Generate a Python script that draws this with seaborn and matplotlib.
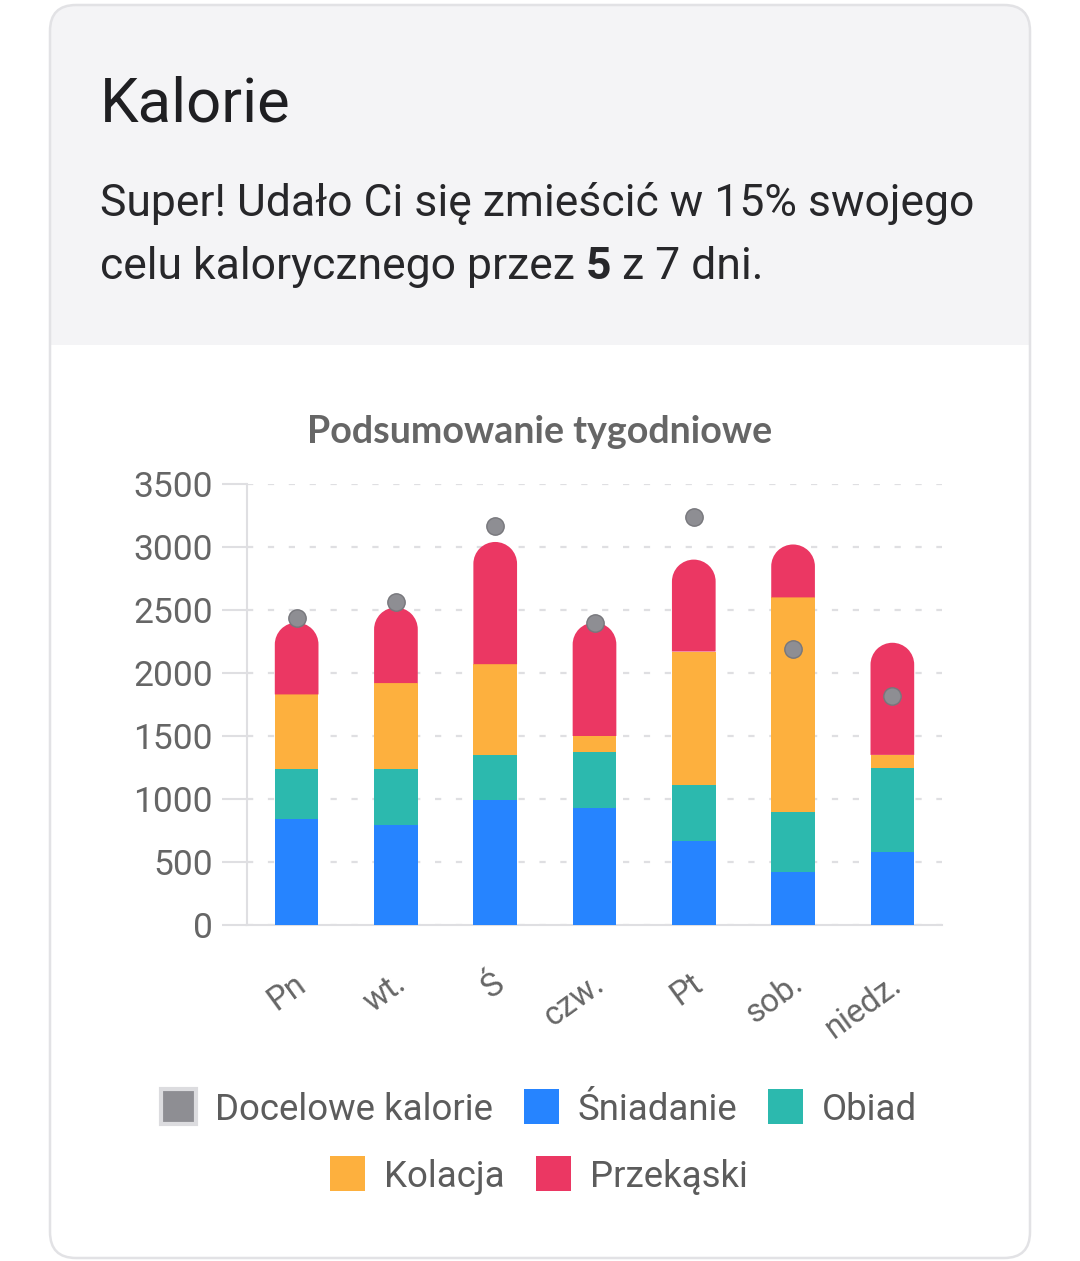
import numpy as np
import pandas as pd
import matplotlib
matplotlib.use("Agg")
import matplotlib.pyplot as plt
import seaborn as sns
from matplotlib.patches import FancyBboxPatch, Rectangle, PathPatch
from matplotlib.path import Path
from matplotlib.transforms import ScaledTranslation

# ---------------- data ----------------
days = ["Pn", "wt.", "Ś", "czw.", "Pt", "sob.", "niedz."]
sniadanie = [840, 790, 990, 930, 670, 420, 580]
obiad = [400, 450, 360, 440, 440, 480, 670]
kolacja = [590, 680, 720, 130, 1060, 1700, 100]
przekaski = [570, 600, 970, 900, 730, 420, 890]
docelowe = [2440, 2560, 3170, 2400, 3240, 2190, 1820]
y_ticks = [0, 500, 1000, 1500, 2000, 2500, 3000, 3500]
legend_labels = ["Docelowe kalorie", "Śniadanie", "Obiad", "Kolacja", "Przekąski"]

title = "Kalorie"
sub_line1 = "Super! Udało Ci się zmieścić w 15% swojego"
sub_line2 = ["celu kalorycznego przez", "5", "z 7 dni."]
chart_title = "Podsumowanie tygodniowe"

# ---------------- style ----------------
C_GRAY = "#8e8e93"
C_BLUE = "#2684ff"
C_TEAL = "#2cb9ae"
C_ORANGE = "#fdb03e"
C_RED = "#eb3763"
C_GRID = "#dfdfe2"
C_TICK = "#666666"

sns.set_theme(style="white")
plt.rcParams["font.family"] = ["Roboto", "DejaVu Sans"]

W, H = 1080, 1261
fig = plt.figure(figsize=(W / 100, H / 100), dpi=100)
fig.patch.set_facecolor("white")
renderer = fig.canvas.get_renderer()

# background / card axes in pixel coordinates
bg = fig.add_axes([0, 0, 1, 1], zorder=0)
bg.set_xlim(0, W)
bg.set_ylim(H, 0)
bg.axis("off")

bg.add_patch(FancyBboxPatch((50, 5), 980, 1253, boxstyle="round,pad=0,rounding_size=26",
                            fc="white", ec="none"))
bg.add_patch(FancyBboxPatch((50, 5), 980, 340, boxstyle="round,pad=0,rounding_size=26",
                            fc="#f4f4f6", ec="none"))
bg.add_patch(Rectangle((50, 300), 980, 45, fc="#f4f4f6", ec="none"))
bg.add_patch(FancyBboxPatch((50, 5), 980, 1253, boxstyle="round,pad=0,rounding_size=26",
                            fc="none", ec="#e2e2e5", lw=1.8))


def fit(t, target):
    bb = t.get_window_extent(renderer)
    t.set_fontsize(t.get_fontsize() * target / bb.width)
    return t


def width(t):
    return t.get_window_extent(renderer).width


fit(bg.text(100, 121, title, fontsize=40, color="#1f1f22", va="baseline", ha="left"), 191)
t1 = fit(bg.text(100, 216, sub_line1, fontsize=28, color="#27272a", va="baseline", ha="left"), 873)
fs = t1.get_fontsize()
a = bg.text(0, 0, "x x", fontsize=fs)
b = bg.text(0, 0, "xx", fontsize=fs)
sp = width(a) - width(b)
a.remove(); b.remove()
x = 100
for i, piece in enumerate(sub_line2):
    t = bg.text(x, 279, piece, fontsize=fs, color="#27272a", va="baseline", ha="left",
                fontweight="bold" if i == 1 else "normal")
    x += width(t) + sp

fit(bg.text(540, 443, chart_title, fontsize=20, color="#666666", va="baseline", ha="center",
            fontweight="bold", family=["Lato", "DejaVu Sans"]), 466)

# ---------------- chart ----------------
cum_lunch = np.add(sniadanie, obiad)
cum_dinner = cum_lunch + np.array(kolacja)
total = cum_dinner + np.array(przekaski)
df = pd.DataFrame({"day": days, "breakfast": sniadanie, "lunch": cum_lunch,
                   "dinner": cum_dinner, "total": total, "target": docelowe})

ax = fig.add_axes([247 / W, 1 - 925 / H, 695 / W, 441 / H], zorder=2)
ax.set_facecolor("none")

BW = 0.44
common = dict(x="day", order=days, width=BW, saturation=1, errorbar=None, ax=ax,
              linewidth=0, edgecolor="none")
sns.barplot(data=df, y="total", color=C_RED, zorder=2, **common)
red_patches = list(ax.patches)
sns.barplot(data=df, y="dinner", color=C_ORANGE, zorder=3, **common)
sns.barplot(data=df, y="lunch", color=C_TEAL, zorder=3, **common)
sns.barplot(data=df, y="breakfast", color=C_BLUE, zorder=3, **common)
sns.stripplot(data=df, x="day", y="target", order=days, jitter=False, size=12.5,
              color=C_GRAY, edgecolor="#77777c", linewidth=1, ax=ax, zorder=6)

ax.set_xlim(-0.5, 6.5)
ax.set_ylim(0, 3500)
ax.set_yticks(y_ticks)
ax.set_xlabel("")
ax.set_ylabel("")

# uppermost segment: square bottom, semicircular top (built from bar geometry)
bb = ax.get_window_extent(renderer)
asp = (3500 / bb.height) / (7 / bb.width)
arc = Path.arc(0, 180)
for p, base in zip(red_patches, cum_dinner):
    x0, w, top = p.get_x(), p.get_width(), p.get_height()
    p.remove()
    rx = w / 2
    ry = rx * asp
    cx, cy = x0 + rx, top - ry
    arc_v = np.column_stack([cx + rx * arc.vertices[:, 0], cy + ry * arc.vertices[:, 1]])
    verts = [(x0, base), (x0 + w, base), (x0 + w, cy)] + [tuple(v) for v in arc_v[1:]] + [(x0, base)]
    codes = [Path.MOVETO, Path.LINETO, Path.LINETO] + list(arc.codes[1:]) + [Path.CLOSEPOLY]
    ax.add_patch(PathPatch(Path(verts, codes), fc=C_RED, ec="none", lw=0, zorder=3,
                           clip_on=False))

for s in ["top", "right"]:
    ax.spines[s].set_visible(False)
for s in ["left", "bottom"]:
    ax.spines[s].set_color(C_GRID)
    ax.spines[s].set_linewidth(1.5)

ax.yaxis.grid(True, color=C_GRID, lw=1.6, linestyle=(0, (2.8, 6.6)))
ax.xaxis.grid(False)
ax.set_axisbelow(True)
ax.tick_params(axis="y", left=True, length=18, width=1.5, color=C_GRID, pad=6.5,
               labelsize=25.5, labelcolor=C_TICK)
ax.tick_params(axis="x", bottom=False, length=0, pad=40, labelsize=23.5, labelcolor=C_TICK)
offset = ScaledTranslation(6 / 100, 0, fig.dpi_scale_trans)
for lbl in ax.get_xticklabels():
    lbl.set_rotation(36)
    lbl.set_ha("right")
    lbl.set_va("center")
    lbl.set_rotation_mode("anchor")
    lbl.set_transform(lbl.get_transform() + offset)

# ---------------- legend ----------------
leg_colors = [C_GRAY, C_BLUE, C_TEAL, C_ORANGE, C_RED]
rows = [[0, 1, 2], [3, 4]]
row_y = [1106, 1173]
BOX, GAP, ITEM_GAP = 35, 19, 31
probe = fit(bg.text(0, -100, legend_labels[0], fontsize=22), 278)
lfs = probe.get_fontsize()
probe.remove()
for r, yc in zip(rows, row_y):
    texts = []
    widths = []
    for i in r:
        t = bg.text(0, yc, legend_labels[i], fontsize=lfs, color="#5c5c5c",
                    va="center_baseline", ha="left")
        texts.append(t)
        widths.append(width(t))
    tot = sum(BOX + GAP + w_ for w_ in widths) + ITEM_GAP * (len(r) - 1)
    x = 539 - tot / 2
    for i, t, w_ in zip(r, texts, widths):
        if i == 0:
            bg.add_patch(Rectangle((x, yc - BOX / 2), BOX, BOX, fc=leg_colors[i],
                                   ec="#dcdcdf", lw=3))
        else:
            bg.add_patch(Rectangle((x, yc - BOX / 2), BOX, BOX, fc=leg_colors[i], ec="none"))
        t.set_x(x + BOX + GAP)
        x += BOX + GAP + w_ + ITEM_GAP

fig.savefig("out.png", dpi=100, facecolor="white")
